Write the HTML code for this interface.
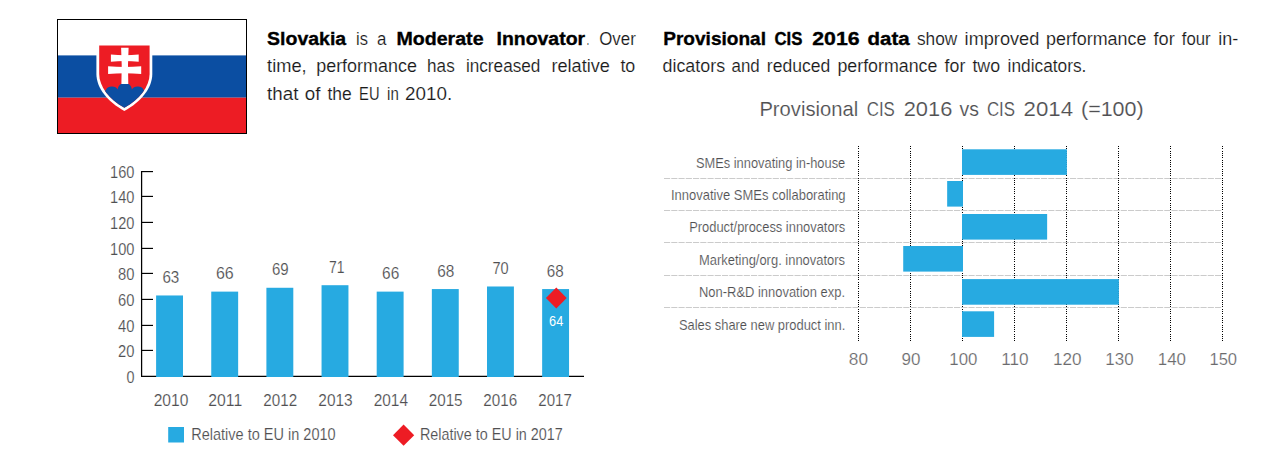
<!DOCTYPE html>
<html><head><meta charset="utf-8"><title>Slovakia</title>
<style>
html,body{margin:0;padding:0;background:#fff;}
body{width:1275px;height:460px;overflow:hidden;font-family:"Liberation Sans",sans-serif;}
svg{display:block;}
svg text{font-family:"Liberation Sans",sans-serif;white-space:pre;}
</style></head><body>
<svg width="1275" height="460" viewBox="0 0 1275 460">
<rect width="1275" height="460" fill="#fff"/>
<rect x="57.5" y="19.5" width="189.0" height="114.0" fill="#fff"/>
<rect x="57.5" y="55.4" width="189.0" height="42.300000000000004" fill="#0b4ea2"/>
<rect x="57.5" y="97.7" width="189.0" height="35.8" fill="#ed1c24"/>
<rect x="57.5" y="19.5" width="189.0" height="114.0" fill="none" stroke="#000" stroke-width="1"/>
<path d="M96.4,43.9 H152.3 V74 C152.3,88 141,102 124.35,110.9 C107.7,102 96.4,88 96.4,74 Z" fill="#fff"/>
<clipPath id="sh"><path d="M99.2,45.5 H149.6 V74 C149.6,86.5 139.5,99.3 124.35,107.8 C109.2,99.3 99.2,86.5 99.2,74 Z"/></clipPath>
<path d="M99.2,45.5 H149.6 V74 C149.6,86.5 139.5,99.3 124.35,107.8 C109.2,99.3 99.2,86.5 99.2,74 Z" fill="#ed1c24"/>
<g clip-path="url(#sh)"><path d="M97,97 L105.9,89.9 C107,87.6 109.5,86.5 111.8,86.6 C114.5,86.5 116.8,87.8 117.7,89.4 C118.1,85.5 121,82.9 124.8,82.9 C128.6,82.9 131.5,85.5 131.9,89.4 C132.8,87.8 135.1,86.5 137.8,86.6 C140.1,86.5 142.6,87.6 143.7,89.9 L152,97 V112 H97 Z" fill="#0b4ea2"/></g>
<path d="M121.1,47.7 L128.6,47.7 Q127.5,65 128.3,84 L121.4,84 Q122.2,65 121.1,47.7 Z" fill="#fff"/>
<path d="M110.9,54.6 Q124.85,56.0 138.7,54.6 L138.7,61.7 Q124.85,60.3 110.9,61.7 Z" fill="#fff"/>
<path d="M108.1,66.3 Q124.85,67.8 141.2,66.3 L141.2,74.1 Q124.85,72.6 108.1,74.1 Z" fill="#fff"/>
<text transform="translate(267.10,44.90) scale(1.0256,1)" font-size="19.0" fill="#000" font-weight="bold" stroke="#000" stroke-width="0.35">Slovakia</text>
<text transform="translate(356.00,44.90) scale(0.8673,1)" font-size="19.0" fill="#1a1a1a" stroke="#fff" stroke-width="0.15">is</text>
<text transform="translate(376.90,44.90) scale(0.8896,1)" font-size="19.0" fill="#1a1a1a" stroke="#fff" stroke-width="0.15">a</text>
<text transform="translate(396.50,44.90) scale(1.0312,1)" font-size="19.0" fill="#000" font-weight="bold" stroke="#000" stroke-width="0.35">Moderate</text>
<text transform="translate(496.50,44.90) scale(1.0236,1)" font-size="19.0" fill="#000" font-weight="bold" stroke="#000" stroke-width="0.35">Innovator</text>
<text transform="translate(586.70,44.90) scale(0.4357,1)" font-size="19.0" fill="#1a1a1a" stroke="#fff" stroke-width="0.15">.</text>
<text transform="translate(599.20,44.90) scale(0.8889,1)" font-size="19.0" fill="#1a1a1a" stroke="#fff" stroke-width="0.15">Over</text>
<text transform="translate(267.10,72.40) scale(0.9618,1)" font-size="19.0" fill="#1a1a1a" stroke="#fff" stroke-width="0.15">time,</text>
<text transform="translate(316.20,72.40) scale(0.9441,1)" font-size="19.0" fill="#1a1a1a" stroke="#fff" stroke-width="0.15">performance</text>
<text transform="translate(427.10,72.40) scale(0.9010,1)" font-size="19.0" fill="#1a1a1a" stroke="#fff" stroke-width="0.15">has</text>
<text transform="translate(465.90,72.40) scale(0.9043,1)" font-size="19.0" fill="#1a1a1a" stroke="#fff" stroke-width="0.15">increased</text>
<text transform="translate(551.40,72.40) scale(0.9551,1)" font-size="19.0" fill="#1a1a1a" stroke="#fff" stroke-width="0.15">relative</text>
<text transform="translate(620.40,72.40) scale(0.9403,1)" font-size="19.0" fill="#1a1a1a" stroke="#fff" stroke-width="0.15">to</text>
<text transform="translate(267.10,99.50) scale(0.9876,1)" font-size="19.0" fill="#1a1a1a" stroke="#fff" stroke-width="0.15">that</text>
<text transform="translate(304.70,99.50) scale(0.9891,1)" font-size="19.0" fill="#1a1a1a" stroke="#fff" stroke-width="0.15">of</text>
<text transform="translate(327.50,99.50) scale(0.9200,1)" font-size="19.0" fill="#1a1a1a" stroke="#fff" stroke-width="0.15">the</text>
<text transform="translate(359.10,99.50) scale(0.7729,1)" font-size="19.0" fill="#1a1a1a" stroke="#fff" stroke-width="0.15">EU</text>
<text transform="translate(387.10,99.50) scale(0.7912,1)" font-size="19.0" fill="#1a1a1a" stroke="#fff" stroke-width="0.15">in</text>
<text transform="translate(405.10,99.50) scale(0.9906,1)" font-size="19.0" fill="#1a1a1a" stroke="#fff" stroke-width="0.15">2010.</text>
<text transform="translate(663.20,44.90) scale(1.0047,1)" font-size="19.0" fill="#000" font-weight="bold" stroke="#000" stroke-width="0.35">Provisional</text>
<text transform="translate(774.50,44.90) scale(0.8840,1)" font-size="19.0" fill="#000" font-weight="bold" stroke="#000" stroke-width="0.35">CIS</text>
<text transform="translate(812.20,44.90) scale(1.1214,1)" font-size="19.0" fill="#000" font-weight="bold" stroke="#000" stroke-width="0.35">2016</text>
<text transform="translate(867.50,44.90) scale(1.0794,1)" font-size="19.0" fill="#000" font-weight="bold" stroke="#000" stroke-width="0.35">data</text>
<text transform="translate(916.90,44.90) scale(0.9099,1)" font-size="19.0" fill="#1a1a1a" stroke="#fff" stroke-width="0.15">show</text>
<text transform="translate(964.60,44.90) scale(0.9572,1)" font-size="19.0" fill="#1a1a1a" stroke="#fff" stroke-width="0.15">improved</text>
<text transform="translate(1046.00,44.90) scale(0.9422,1)" font-size="19.0" fill="#1a1a1a" stroke="#fff" stroke-width="0.15">performance</text>
<text transform="translate(1153.50,44.90) scale(0.9561,1)" font-size="19.0" fill="#1a1a1a" stroke="#fff" stroke-width="0.15">for</text>
<text transform="translate(1181.80,44.90) scale(0.8827,1)" font-size="19.0" fill="#1a1a1a" stroke="#fff" stroke-width="0.15">four</text>
<text transform="translate(1218.20,44.90) scale(0.9472,1)" font-size="19.0" fill="#1a1a1a" stroke="#fff" stroke-width="0.15">in-</text>
<text transform="translate(662.50,72.40) scale(0.9410,1)" font-size="19.0" fill="#1a1a1a" stroke="#fff" stroke-width="0.15">dicators</text>
<text transform="translate(731.50,72.40) scale(0.8896,1)" font-size="19.0" fill="#1a1a1a" stroke="#fff" stroke-width="0.15">and</text>
<text transform="translate(766.80,72.40) scale(0.9248,1)" font-size="19.0" fill="#1a1a1a" stroke="#fff" stroke-width="0.15">reduced</text>
<text transform="translate(837.40,72.40) scale(0.9375,1)" font-size="19.0" fill="#1a1a1a" stroke="#fff" stroke-width="0.15">performance</text>
<text transform="translate(944.60,72.40) scale(0.9336,1)" font-size="19.0" fill="#1a1a1a" stroke="#fff" stroke-width="0.15">for</text>
<text transform="translate(972.40,72.40) scale(0.9369,1)" font-size="19.0" fill="#1a1a1a" stroke="#fff" stroke-width="0.15">two</text>
<text transform="translate(1007.60,72.40) scale(0.9111,1)" font-size="19.0" fill="#1a1a1a" stroke="#fff" stroke-width="0.15">indicators.</text>
<text transform="translate(759.40,115.70) scale(1.0306,1)" font-size="19.6" fill="#505052" stroke="#fff" stroke-width="0.15">Provisional</text>
<text transform="translate(866.70,115.70) scale(0.8631,1)" font-size="19.6" fill="#505052" stroke="#fff" stroke-width="0.15">CIS</text>
<text transform="translate(903.70,115.70) scale(1.1169,1)" font-size="19.6" fill="#505052" stroke="#fff" stroke-width="0.15">2016</text>
<text transform="translate(959.60,115.70) scale(0.9898,1)" font-size="19.6" fill="#505052" stroke="#fff" stroke-width="0.15">vs</text>
<text transform="translate(986.90,115.70) scale(0.8631,1)" font-size="19.6" fill="#505052" stroke="#fff" stroke-width="0.15">CIS</text>
<text transform="translate(1023.60,115.70) scale(1.1353,1)" font-size="19.6" fill="#505052" stroke="#fff" stroke-width="0.15">2014</text>
<text transform="translate(1081.00,115.70) scale(1.0961,1)" font-size="19.6" fill="#505052" stroke="#fff" stroke-width="0.15">(=100)</text>
<path d="M141.6,171.0 V376.3 H584" fill="none" stroke="#000" stroke-width="1.25"/>
<path d="M141.6,350.40 H153" stroke="#000" stroke-width="1.15"/>
<path d="M141.6,325.40 H153" stroke="#000" stroke-width="1.15"/>
<path d="M141.6,299.40 H153" stroke="#000" stroke-width="1.15"/>
<path d="M141.6,273.40 H153" stroke="#000" stroke-width="1.15"/>
<path d="M141.6,248.40 H153" stroke="#000" stroke-width="1.15"/>
<path d="M141.6,222.40 H153" stroke="#000" stroke-width="1.15"/>
<path d="M141.6,196.40 H153" stroke="#000" stroke-width="1.15"/>
<path d="M141.6,171.60 H153" stroke="#000" stroke-width="1.15"/>
<rect x="156.10" y="295.47" width="26.9" height="81.53" fill="#27aae1"/>
<rect x="211.25" y="291.62" width="26.9" height="85.38" fill="#27aae1"/>
<rect x="266.40" y="287.77" width="26.9" height="89.23" fill="#27aae1"/>
<rect x="321.55" y="285.21" width="26.9" height="91.79" fill="#27aae1"/>
<rect x="376.70" y="291.62" width="26.9" height="85.38" fill="#27aae1"/>
<rect x="431.85" y="289.06" width="26.9" height="87.94" fill="#27aae1"/>
<rect x="487.00" y="286.49" width="26.9" height="90.51" fill="#27aae1"/>
<rect x="542.15" y="289.06" width="26.9" height="87.94" fill="#27aae1"/>
<text transform="translate(126.50,382.90) scale(0.8879,1)" font-size="16.2" fill="#505052" stroke="#fff" stroke-width="0.15">0</text>
<text transform="translate(118.10,357.00) scale(0.9101,1)" font-size="16.2" fill="#505052" stroke="#fff" stroke-width="0.15">20</text>
<text transform="translate(118.10,332.00) scale(0.9101,1)" font-size="16.2" fill="#505052" stroke="#fff" stroke-width="0.15">40</text>
<text transform="translate(118.10,306.00) scale(0.9101,1)" font-size="16.2" fill="#505052" stroke="#fff" stroke-width="0.15">60</text>
<text transform="translate(118.10,280.00) scale(0.9101,1)" font-size="16.2" fill="#505052" stroke="#fff" stroke-width="0.15">80</text>
<text transform="translate(110.10,255.00) scale(0.9027,1)" font-size="16.2" fill="#505052" stroke="#fff" stroke-width="0.15">100</text>
<text transform="translate(110.10,229.00) scale(0.9027,1)" font-size="16.2" fill="#505052" stroke="#fff" stroke-width="0.15">120</text>
<text transform="translate(110.10,203.00) scale(0.9027,1)" font-size="16.2" fill="#505052" stroke="#fff" stroke-width="0.15">140</text>
<text transform="translate(110.10,178.20) scale(0.9027,1)" font-size="16.2" fill="#505052" stroke="#fff" stroke-width="0.15">160</text>
<text transform="translate(162.40,283.17) scale(0.9379,1)" font-size="16.2" fill="#505052" stroke="#fff" stroke-width="0.15">63</text>
<text transform="translate(215.90,279.32) scale(0.9878,1)" font-size="16.2" fill="#505052" stroke="#fff" stroke-width="0.15">66</text>
<text transform="translate(272.00,275.47) scale(0.9268,1)" font-size="16.2" fill="#505052" stroke="#fff" stroke-width="0.15">69</text>
<text transform="translate(329.00,272.91) scale(0.8602,1)" font-size="16.2" fill="#505052" stroke="#fff" stroke-width="0.15">71</text>
<text transform="translate(382.10,279.32) scale(0.9545,1)" font-size="16.2" fill="#505052" stroke="#fff" stroke-width="0.15">66</text>
<text transform="translate(437.30,276.76) scale(0.9490,1)" font-size="16.2" fill="#505052" stroke="#fff" stroke-width="0.15">68</text>
<text transform="translate(492.50,274.19) scale(0.8990,1)" font-size="16.2" fill="#505052" stroke="#fff" stroke-width="0.15">70</text>
<text transform="translate(546.70,276.76) scale(0.9379,1)" font-size="16.2" fill="#505052" stroke="#fff" stroke-width="0.15">68</text>
<text transform="translate(153.70,405.80) scale(0.9629,1)" font-size="16.2" fill="#505052" stroke="#fff" stroke-width="0.15">2010</text>
<text transform="translate(208.30,405.80) scale(0.9731,1)" font-size="16.2" fill="#505052" stroke="#fff" stroke-width="0.15">2011</text>
<text transform="translate(263.30,405.80) scale(0.9407,1)" font-size="16.2" fill="#505052" stroke="#fff" stroke-width="0.15">2012</text>
<text transform="translate(318.30,405.80) scale(0.9545,1)" font-size="16.2" fill="#505052" stroke="#fff" stroke-width="0.15">2013</text>
<text transform="translate(373.70,405.80) scale(0.9518,1)" font-size="16.2" fill="#505052" stroke="#fff" stroke-width="0.15">2014</text>
<text transform="translate(428.70,405.80) scale(0.9407,1)" font-size="16.2" fill="#505052" stroke="#fff" stroke-width="0.15">2015</text>
<text transform="translate(483.30,405.80) scale(0.9407,1)" font-size="16.2" fill="#505052" stroke="#fff" stroke-width="0.15">2016</text>
<text transform="translate(538.30,405.80) scale(0.9296,1)" font-size="16.2" fill="#505052" stroke="#fff" stroke-width="0.15">2017</text>
<path d="M556.3,287.4 L566.7,297.9 L556.3,308.4 L545.9,297.9 Z" fill="#ed1c24"/>
<text transform="translate(549.10,325.90) scale(0.9251,1)" font-size="13.8" fill="#fff">64</text>
<rect x="168.2" y="427" width="15.8" height="15.5" fill="#27aae1"/>
<text transform="translate(191.20,439.90) scale(0.8971,1)" font-size="16.2" fill="#505052" stroke="#fff" stroke-width="0.15">Relative to EU in 2010</text>
<path d="M403.6,424.6 L414.2,435.2 L403.6,445.8 L393,435.2 Z" fill="#ed1c24"/>
<text transform="translate(419.90,439.90) scale(0.8871,1)" font-size="16.2" fill="#505052" stroke="#fff" stroke-width="0.15">Relative to EU in 2017</text>
<path d="M664,178.5 H1222" stroke="#cbcbcb" stroke-width="1" stroke-dasharray="6.15 1.1" fill="none"/>
<path d="M664,210.5 H1222" stroke="#cbcbcb" stroke-width="1" stroke-dasharray="6.15 1.1" fill="none"/>
<path d="M664,242.5 H1222" stroke="#cbcbcb" stroke-width="1" stroke-dasharray="6.15 1.1" fill="none"/>
<path d="M664,275.5 H1222" stroke="#cbcbcb" stroke-width="1" stroke-dasharray="6.15 1.1" fill="none"/>
<path d="M664,307.5 H1222" stroke="#cbcbcb" stroke-width="1" stroke-dasharray="6.15 1.1" fill="none"/>
<path d="M858.50,146 V341" stroke="#000" stroke-width="1" stroke-dasharray="1 1.26" fill="none" shape-rendering="crispEdges"/>
<path d="M910.50,146 V341" stroke="#000" stroke-width="1" stroke-dasharray="1 1.26" fill="none" shape-rendering="crispEdges"/>
<path d="M962.50,146 V341" stroke="#000" stroke-width="1" stroke-dasharray="1 1.26" fill="none" shape-rendering="crispEdges"/>
<path d="M1014.50,146 V341" stroke="#000" stroke-width="1" stroke-dasharray="1 1.26" fill="none" shape-rendering="crispEdges"/>
<path d="M1066.50,146 V341" stroke="#000" stroke-width="1" stroke-dasharray="1 1.26" fill="none" shape-rendering="crispEdges"/>
<path d="M1118.50,146 V341" stroke="#000" stroke-width="1" stroke-dasharray="1 1.26" fill="none" shape-rendering="crispEdges"/>
<path d="M1170.50,146 V341" stroke="#000" stroke-width="1" stroke-dasharray="1 1.26" fill="none" shape-rendering="crispEdges"/>
<path d="M1222.50,146 V341" stroke="#000" stroke-width="1" stroke-dasharray="1 1.26" fill="none" shape-rendering="crispEdges"/>
<rect x="962.00" y="149.30" width="104.90" height="25.6" fill="#27aae1"/>
<text transform="translate(695.90,167.90) scale(0.9264,1)" font-size="13.9" fill="#505052" stroke="#fff" stroke-width="0.15">SMEs innovating in-house</text>
<rect x="947.16" y="181.00" width="15.84" height="25.6" fill="#27aae1"/>
<text transform="translate(671.00,200.00) scale(0.9349,1)" font-size="13.9" fill="#505052" stroke="#fff" stroke-width="0.15">Innovative SMEs collaborating</text>
<rect x="962.00" y="214.00" width="85.14" height="25.6" fill="#27aae1"/>
<text transform="translate(689.20,232.10) scale(0.9280,1)" font-size="13.9" fill="#505052" stroke="#fff" stroke-width="0.15">Product/process innovators</text>
<rect x="903.22" y="246.00" width="59.78" height="25.6" fill="#27aae1"/>
<text transform="translate(699.00,265.00) scale(0.9322,1)" font-size="13.9" fill="#505052" stroke="#fff" stroke-width="0.15">Marketing/org. innovators</text>
<rect x="962.00" y="279.10" width="156.90" height="25.6" fill="#27aae1"/>
<text transform="translate(699.00,297.20) scale(0.9321,1)" font-size="13.9" fill="#505052" stroke="#fff" stroke-width="0.15">Non-R&amp;D innovation exp.</text>
<rect x="962.00" y="311.30" width="32.10" height="25.6" fill="#27aae1"/>
<text transform="translate(678.90,330.40) scale(0.9288,1)" font-size="13.9" fill="#505052" stroke="#fff" stroke-width="0.15">Sales share new product inn.</text>
<text transform="translate(848.80,365.00) scale(1.0154,1)" font-size="17.0" fill="#6b6b6d" stroke="#fff" stroke-width="0.18">80</text>
<text transform="translate(901.50,365.00) scale(0.9995,1)" font-size="17.0" fill="#6b6b6d" stroke="#fff" stroke-width="0.18">90</text>
<text transform="translate(949.30,365.00) scale(0.9907,1)" font-size="17.0" fill="#6b6b6d" stroke="#fff" stroke-width="0.18">100</text>
<text transform="translate(1001.20,365.00) scale(1.0110,1)" font-size="17.0" fill="#6b6b6d" stroke="#fff" stroke-width="0.18">110</text>
<text transform="translate(1052.90,365.00) scale(1.0083,1)" font-size="17.0" fill="#6b6b6d" stroke="#fff" stroke-width="0.18">120</text>
<text transform="translate(1105.30,365.00) scale(0.9978,1)" font-size="17.0" fill="#6b6b6d" stroke="#fff" stroke-width="0.18">130</text>
<text transform="translate(1157.70,365.00) scale(0.9978,1)" font-size="17.0" fill="#6b6b6d" stroke="#fff" stroke-width="0.18">140</text>
<text transform="translate(1209.40,365.00) scale(0.9766,1)" font-size="17.0" fill="#6b6b6d" stroke="#fff" stroke-width="0.18">150</text>
</svg>
</body></html>
